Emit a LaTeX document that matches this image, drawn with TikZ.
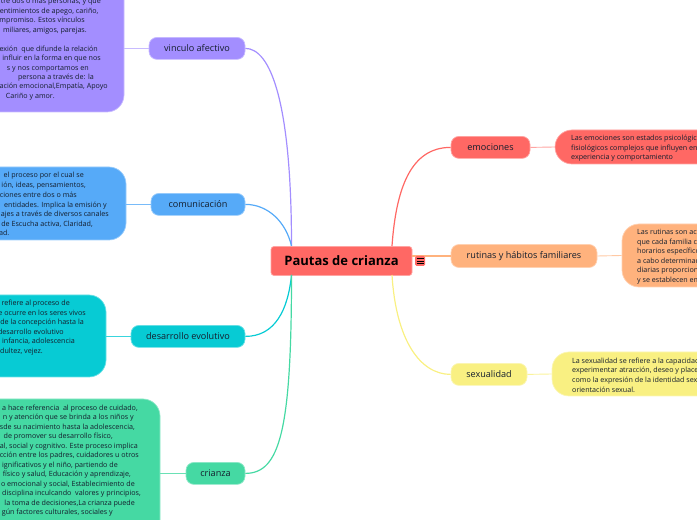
\documentclass[tikz,border=0pt]{standalone}
\usepackage{fontspec}
\setmainfont{Open Sans}
\usepackage{xcolor}
\usetikzlibrary{positioning}
\definecolor{rootred}{RGB}{255,104,100}
\definecolor{violet}{RGB}{163,142,255}
\definecolor{skyblue}{RGB}{86,170,248}
\definecolor{teal}{RGB}{7,203,212}
\definecolor{mint}{RGB}{69,217,163}
\definecolor{peach}{RGB}{255,178,125}
\definecolor{lemon}{RGB}{249,240,130}
\definecolor{inkblue}{RGB}{20,30,45}
\tikzset{
    topicnode/.style={shape=rectangle, rounded corners=8pt, minimum height=22pt, inner sep=0pt, text=inkblue, font=\fontsize{9.1}{10}\selectfont, line width=0.7pt},
    notebox/.style={shape=rectangle, rounded corners=17pt, inner sep=0pt, line width=0.7pt},
    notelines/.style={anchor=west, align=left, inner sep=0pt, text=inkblue, font=\fontsize{7.15}{9.6}\selectfont},
    noteline/.style={anchor=east, inner sep=0pt, text=inkblue, font=\fontsize{7.15}{9.6}\selectfont}
}
\begin{document}
\begin{tikzpicture}[
        line join=bevel,
        branch/.style={line width=1.2pt},
        twig/.style={line width=0.9pt}
    ]
        \useasboundingbox (0pt, 0pt) rectangle (697pt, 520pt);
        \clip (0pt, 0pt) rectangle (697pt, 520pt);
        % Root
        \node[shape=rectangle, rounded corners=3pt, fill=rootred, draw=rootred!60!white, line width=0.7pt, minimum width=141pt, minimum height=29pt, inner sep=0pt, text=black, font=\fontsize{13}{15}\selectfont\bfseries] (root) at (341.5pt, 259pt) {Pautas de crianza};
        \coordinate (rootlefttop) at (291.5pt, 274pt);
        \coordinate (rootleftbottom) at (291.5pt, 245pt);
        \coordinate (rootrighttop) at (392pt, 274pt);
        \coordinate (rootrightbottom) at (392pt, 245pt);
        % Topics
        \node[topicnode, fill=violet, draw=violet!60!white, minimum width=96pt] (vinculo) at (197pt, 471.6pt) {vinculo afectivo};
        \node[topicnode, fill=skyblue, draw=skyblue!60!white, minimum width=94pt] (comunicacion) at (198pt, 315.6pt) {comunicación};
        \node[topicnode, fill=teal, draw=teal!60!white, minimum width=114pt] (desarrollo) at (188pt, 183.6pt) {desarrollo evolutivo};
        \node[topicnode, fill=mint, draw=mint!60!white, minimum width=59pt] (crianza) at (215.5pt, 46.6pt) {crianza};
        \node[topicnode, fill=rootred, draw=rootred!60!white, minimum width=79pt] (emociones) at (490.5pt, 372.6pt) {emociones};
        \node[topicnode, fill=peach, draw=peach!60!white, minimum width=146pt, minimum height=23pt] (rutinas) at (524pt, 264pt) {rutinas y hábitos familiares};
        \node[topicnode, fill=lemon, draw=lemon!60!white, minimum width=76pt] (sexualidad) at (489pt, 145.6pt) {sexualidad};
        % Note boxes
        \node[notebox, fill=violet, draw=violet!60!white, minimum width=224pt, minimum height=172pt] (vinculobox) at (12pt, 494pt) {};
        \node[notebox, fill=skyblue, draw=skyblue!60!white, minimum width=226pt, minimum height=73pt] (comunicacionbox) at (13pt, 316.5pt) {};
        \node[notebox, fill=teal, draw=teal!60!white, minimum width=206pt, minimum height=82pt] (desarrollobox) at (3pt, 184pt) {};
        \node[notebox, fill=mint, draw=mint!60!white, minimum width=260pt, minimum height=201pt] (crianzabox) at (30pt, 20.5pt) {};
        \node[notebox, fill=rootred, draw=rootred!60!white, minimum width=245pt, minimum height=34pt] (emocionesbox) at (677.5pt, 373pt) {};
        \node[notebox, fill=peach, draw=peach!60!white, minimum width=178pt, minimum height=63pt] (rutinasbox) at (711pt, 264.5pt) {};
        \node[notebox, fill=lemon, draw=lemon!60!white, minimum width=248pt, minimum height=44pt] (sexualidadbox) at (676pt, 146pt) {};
        % Branches
        \draw[branch, violet] (vinculo.east) .. controls (270pt, 471.6pt) and (291.5pt, 420pt) .. (rootlefttop);
        \draw[branch, skyblue] (comunicacion.east) .. controls (268pt, 315.6pt) and (286pt, 298pt) .. (rootlefttop);
        \draw[branch, teal] (desarrollo.east) .. controls (275pt, 183.6pt) and (288pt, 210pt) .. (rootleftbottom);
        \draw[branch, mint] (crianza.east) .. controls (280pt, 46.6pt) and (291.5pt, 90pt) .. (rootleftbottom);
        \draw[branch, rootred] (rootrighttop) .. controls (396pt, 330pt) and (410pt, 372.6pt) .. (emociones.west);
        \draw[branch, peach] (rutinas.west -| root.east) -- (rutinas.west);
        \draw[branch, lemon] (rootrightbottom) .. controls (396pt, 180pt) and (420pt, 145.6pt) .. (sexualidad.west);
        % Twigs
        \draw[twig, violet!60!white] (vinculo.west) -- (vinculobox.east |- vinculo.west);
        \draw[twig, skyblue!80!white] (comunicacion.west) -- (comunicacionbox.east |- comunicacion.west);
        \draw[twig, teal!80!white] (desarrollo.west) -- (desarrollobox.east |- desarrollo.west);
        \draw[twig, mint!80!white] (crianza.west) -- (crianzabox.east |- crianza.west);
        \draw[twig, rootred!60!white] (emociones.east) -- (emocionesbox.west);
        \draw[twig, peach!70!white] (rutinas.east) -- (rutinasbox.west);
        \draw[twig, lemon!80!white] (sexualidad.east) -- (sexualidadbox.west);
        % Menu icon
        \node[shape=rectangle, rounded corners=1.5pt, fill=rootred, minimum size=10pt, inner sep=0pt] (menuicon) at (420pt, 259pt) {};
        \foreach \ydash in {256.5pt, 259pt, 261.5pt} {
            \draw[line width=0.7pt, black] (416.5pt, \ydash) -- (423.5pt, \ydash);
        }
        % Left notes
        \foreach \xend/\yline/\ltext [count=\n] in {
            101pt/518.2pt/{tre dos o más personas, y que},
            98.7pt/508.7pt/{entimientos de apego, cariño,},
            85pt/499.2pt/{ompromiso. Estos vínculos},
            87pt/489.7pt/{miliares, amigos, parejas.},
            98pt/470.7pt/{exión~ que difunde la relación},
            101pt/461.7pt/{influir en la forma en que nos},
            89pt/451.7pt/{s y nos comportamos en},
            94pt/442.2pt/{persona a través de: la},
            108pt/433.2pt/{ación emocional,Empatía, Apoyo},
            55pt/423.7pt/{Cariño y amor.}} {
            \node[noteline] (vinculoline\n) at (\xend, \yline) {\ltext\strut};
        }
        \foreach \xend/\yline/\ltext [count=\n] in {
            84pt/344.2pt/{el proceso por el cual se},
            86pt/334.2pt/{ión, ideas, pensamientos,},
            77pt/324.2pt/{ciones entre dos o más},
            107pt/314.7pt/{entidades. Implica la emisión y},
            109pt/305.2pt/{ajes a través de diversos canales},
            93pt/295.2pt/{de Escucha activa, Claridad,},
            9.5pt/286.2pt/{ad.}} {
            \node[noteline] (comunicacionline\n) at (\xend, \yline) {\ltext\strut};
        }
        \foreach \xend/\yline/\ltext [count=\n] in {
            70pt/216.2pt/{refiere al proceso de},
            86pt/206.2pt/{e ocurre en los seres vivos},
            84pt/197.2pt/{de la concepción hasta la},
            64pt/187.7pt/{desarrollo evolutivo},
            75pt/178.2pt/{infancia, adolescencia},
            43pt/168.2pt/{dultez, vejez.}} {
            \node[noteline] (desarrolloline\n) at (\xend, \yline) {\ltext\strut};
        }
        \foreach \xend/\yline/\ltext [count=\n] in {
            138pt/111.2pt/{a hace referencia~ al proceso de cuidado,},
            134pt/102.2pt/{n y atención que se brinda a los niños y},
            135pt/92.2pt/{sde su nacimiento hasta la adolescencia,},
            113pt/83.2pt/{de promover su desarrollo físico,},
            138pt/73.7pt/{al, social y cognitivo. Este proceso implica},
            139pt/64.2pt/{cción entre los padres, cuidadores u otros},
            118pt/54.7pt/{ignificativos y el niño, partiendo de},
            131pt/45.2pt/{físico y salud, Educación y aprendizaje,},
            135pt/35.7pt/{o emocional y social, Establecimiento de},
            141pt/26.2pt/{disciplina inculcando~ valores y principios,},
            135pt/16.7pt/{la toma de decisiones,La crianza puede},
            113pt/7.2pt/{gún factores culturales, sociales y}} {
            \node[noteline] (crianzaline\n) at (\xend, \yline) {\ltext\strut};
        }
        % Right notes
        \node[notelines] (emocionestext) at (571pt, 371.5pt) {Las emociones son estados psicológicos\\fisiológicos complejos que influyen en\\experiencia y comportamiento};
        \node[notelines] (rutinastext) at (637pt, 263.2pt) {Las rutinas son act\\que cada familia c\\horarios específico\\a cabo determinad\\diarias proporcion\\y se establecen en};
        \node[notelines] (sexualidadtext) at (572pt, 145pt) {La sexualidad se refiere a la capacidad\\experimentar atracción, deseo y placer\\como la expresión de la identidad sex\\orientación sexual.};
    \end{tikzpicture}
\end{document}
